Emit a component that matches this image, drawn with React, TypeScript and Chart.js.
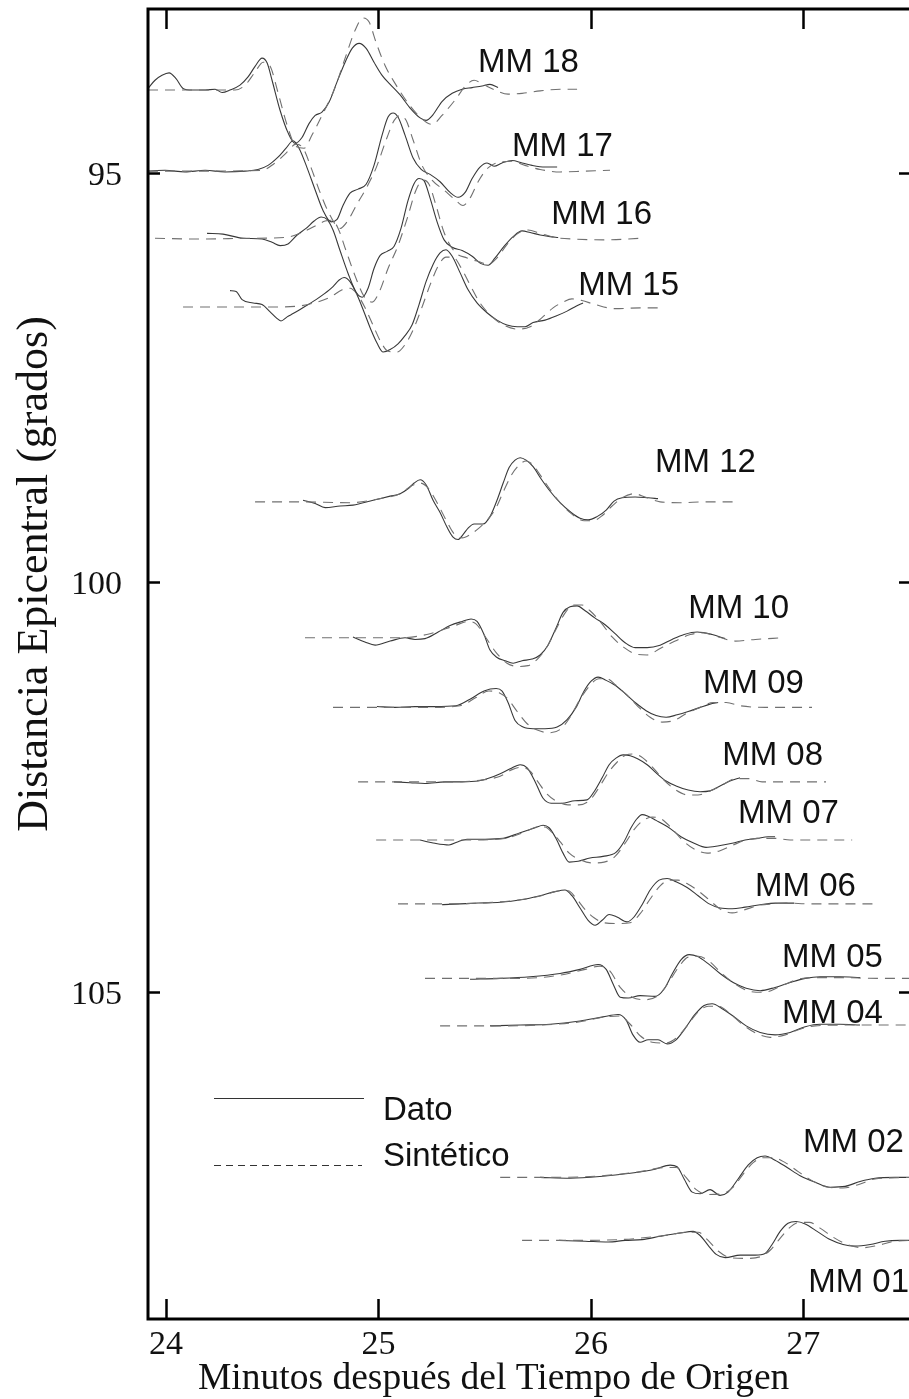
import { useEffect, useRef } from "react";
import { Chart, registerables } from "chart.js";

Chart.register(...registerables);

// Station names, top to bottom, and their epicentral distances (degrees)
const stations = ["MM 18", "MM 17", "MM 16", "MM 15", "MM 12", "MM 10", "MM 09", "MM 08", "MM 07", "MM 06", "MM 05", "MM 04", "MM 02", "MM 01"];
const distances = [93.98, 94.98, 95.8, 96.65, 99.02, 100.68, 101.53, 102.44, 103.15, 103.93, 104.84, 105.41, 107.27, 108.04];

// Axis ticks
const timeTicks = [24, 25, 26, 27];
const distanceTicks = [95, 100, 105];

// Each trace: [minutes after origin, amplitude in degrees (positive = up)]
const mm18Dato = [[23.915, 0.01], [23.948, 0.11], [23.981, 0.17], [24.014, 0.2], [24.047, 0.13], [24.08, 0.01], [24.122, -0.01], [24.184, -0.01], [24.231, 0.0], [24.264, -0.04], [24.301, -0.01], [24.348, 0.05], [24.386, 0.15], [24.419, 0.28], [24.452, 0.38], [24.476, 0.32], [24.499, 0.11], [24.537, -0.26], [24.574, -0.53], [24.607, -0.66], [24.64, -0.59], [24.673, -0.42], [24.702, -0.32], [24.734, -0.28], [24.767, -0.16], [24.805, 0.09], [24.843, 0.33], [24.876, 0.5], [24.909, 0.56], [24.942, 0.5], [24.979, 0.33], [25.017, 0.17], [25.055, 0.06], [25.102, -0.07], [25.149, -0.23], [25.196, -0.35], [25.224, -0.38], [25.257, -0.31], [25.299, -0.15], [25.347, -0.05], [25.394, 0.0], [25.441, 0.02], [25.488, 0.04], [25.525, 0.06], [25.563, 0.02]];
const mm18Sint = [[23.915, -0.01], [24.16, -0.01], [24.325, -0.01], [24.372, 0.05], [24.419, 0.21], [24.457, 0.33], [24.49, 0.28], [24.527, -0.04], [24.57, -0.44], [24.612, -0.7], [24.65, -0.72], [24.687, -0.56], [24.734, -0.32], [24.791, -0.01], [24.843, 0.38], [24.89, 0.72], [24.927, 0.87], [24.956, 0.82], [24.989, 0.57], [25.031, 0.29], [25.083, 0.05], [25.139, -0.17], [25.196, -0.34], [25.252, -0.43], [25.299, -0.32], [25.361, -0.13], [25.413, 0.05], [25.45, 0.11], [25.492, 0.06], [25.549, -0.01], [25.61, -0.06], [25.676, -0.05], [25.761, -0.02], [25.855, 0.0], [25.935, 0.0]];

const mm17Dato = [[23.915, 0.0], [23.995, 0.01], [24.089, -0.01], [24.184, 0.01], [24.278, -0.01], [24.372, 0.0], [24.433, 0.02], [24.48, 0.07], [24.527, 0.17], [24.565, 0.28], [24.598, 0.37], [24.626, 0.28], [24.664, 0.04], [24.702, -0.23], [24.739, -0.48], [24.777, -0.62], [24.805, -0.59], [24.833, -0.42], [24.866, -0.27], [24.904, -0.22], [24.942, -0.16], [24.979, 0.07], [25.017, 0.44], [25.045, 0.66], [25.069, 0.71], [25.092, 0.66], [25.125, 0.44], [25.163, 0.16], [25.201, 0.02], [25.243, -0.04], [25.29, -0.13], [25.337, -0.26], [25.375, -0.32], [25.408, -0.26], [25.441, -0.09], [25.478, 0.05], [25.511, 0.1], [25.544, 0.06], [25.582, 0.1], [25.629, 0.13], [25.676, 0.1], [25.723, 0.07], [25.784, 0.05], [25.841, 0.05]];
const mm17Sint = [[23.915, 0.0], [24.16, 0.0], [24.452, 0.01], [24.508, 0.09], [24.565, 0.22], [24.612, 0.33], [24.645, 0.28], [24.683, 0.04], [24.725, -0.26], [24.772, -0.54], [24.819, -0.7], [24.857, -0.6], [24.895, -0.42], [24.942, -0.21], [24.989, 0.04], [25.036, 0.38], [25.074, 0.62], [25.102, 0.68], [25.13, 0.62], [25.163, 0.38], [25.205, 0.07], [25.252, -0.11], [25.308, -0.23], [25.361, -0.35], [25.398, -0.42], [25.431, -0.33], [25.469, -0.13], [25.516, 0.04], [25.573, 0.11], [25.629, 0.12], [25.69, 0.07], [25.761, 0.02], [25.855, -0.01], [25.973, 0.0], [26.09, 0.01]];

const mm16Dato = [[24.193, 0.06], [24.268, 0.05], [24.363, 0.0], [24.452, -0.01], [24.499, -0.05], [24.537, -0.09], [24.574, -0.07], [24.617, 0.04], [24.659, 0.12], [24.697, 0.21], [24.73, 0.26], [24.758, 0.23], [24.786, 0.1], [24.819, -0.15], [24.857, -0.43], [24.895, -0.66], [24.923, -0.72], [24.951, -0.61], [24.979, -0.37], [25.008, -0.21], [25.041, -0.16], [25.073, -0.1], [25.106, 0.12], [25.139, 0.46], [25.168, 0.67], [25.191, 0.73], [25.215, 0.7], [25.243, 0.49], [25.276, 0.2], [25.309, -0.02], [25.347, -0.11], [25.394, -0.15], [25.441, -0.22], [25.483, -0.31], [25.516, -0.33], [25.549, -0.24], [25.591, -0.1], [25.634, 0.02], [25.676, 0.09], [25.714, 0.07], [25.761, 0.04], [25.808, 0.02], [25.846, 0.01]];
const mm16Sint = [[23.948, 0.0], [24.16, -0.01], [24.395, 0.0], [24.56, 0.01], [24.631, 0.06], [24.702, 0.15], [24.749, 0.21], [24.782, 0.22], [24.81, 0.12], [24.847, -0.15], [24.89, -0.46], [24.932, -0.71], [24.97, -0.78], [25.003, -0.66], [25.045, -0.37], [25.092, -0.09], [25.135, 0.24], [25.177, 0.59], [25.21, 0.71], [25.238, 0.66], [25.271, 0.4], [25.309, 0.07], [25.361, -0.17], [25.417, -0.24], [25.478, -0.29], [25.516, -0.32], [25.558, -0.24], [25.61, -0.06], [25.657, 0.06], [25.704, 0.1], [25.761, 0.06], [25.831, 0.01], [25.925, -0.01], [26.067, -0.02], [26.232, 0.0]];

const mm15Dato = [[24.301, 0.21], [24.33, 0.2], [24.358, 0.1], [24.41, 0.06], [24.452, 0.04], [24.49, -0.05], [24.518, -0.12], [24.541, -0.16], [24.57, -0.11], [24.598, -0.07], [24.631, -0.02], [24.669, 0.04], [24.706, 0.1], [24.744, 0.17], [24.786, 0.26], [24.815, 0.34], [24.838, 0.37], [24.866, 0.32], [24.899, 0.16], [24.932, -0.05], [24.965, -0.27], [24.993, -0.43], [25.022, -0.54], [25.055, -0.51], [25.092, -0.44], [25.125, -0.34], [25.158, -0.21], [25.191, 0.04], [25.224, 0.32], [25.257, 0.53], [25.29, 0.67], [25.318, 0.71], [25.347, 0.63], [25.384, 0.43], [25.422, 0.22], [25.464, 0.06], [25.511, -0.06], [25.558, -0.15], [25.605, -0.21], [25.653, -0.23], [25.69, -0.23], [25.728, -0.18], [25.784, -0.15], [25.836, -0.1], [25.888, -0.04], [25.93, 0.02], [25.963, 0.06]];
const mm15Sint = [[24.08, 0.01], [24.301, 0.01], [24.49, 0.01], [24.617, 0.02], [24.697, 0.06], [24.772, 0.13], [24.829, 0.22], [24.866, 0.24], [24.899, 0.17], [24.937, 0.0], [24.974, -0.21], [25.012, -0.42], [25.045, -0.53], [25.088, -0.54], [25.125, -0.45], [25.163, -0.27], [25.201, -0.02], [25.243, 0.28], [25.281, 0.51], [25.318, 0.62], [25.351, 0.62], [25.389, 0.49], [25.431, 0.28], [25.478, 0.06], [25.535, -0.11], [25.596, -0.22], [25.657, -0.26], [25.714, -0.23], [25.77, -0.12], [25.822, 0.0], [25.869, 0.07], [25.911, 0.11], [25.958, 0.09], [26.02, 0.04], [26.114, -0.01], [26.232, 0.0], [26.326, 0.0]];

const mm12Dato = [[24.645, 0.02], [24.702, -0.02], [24.749, -0.07], [24.819, -0.05], [24.88, -0.04], [24.975, 0.02], [25.055, 0.07], [25.102, 0.1], [25.139, 0.16], [25.168, 0.23], [25.196, 0.27], [25.224, 0.21], [25.257, 0.02], [25.29, -0.13], [25.323, -0.31], [25.351, -0.43], [25.375, -0.46], [25.398, -0.4], [25.422, -0.32], [25.45, -0.27], [25.492, -0.27], [25.525, -0.18], [25.558, 0.02], [25.587, 0.23], [25.615, 0.42], [25.643, 0.51], [25.667, 0.54], [25.695, 0.51], [25.728, 0.43], [25.766, 0.28], [25.808, 0.13], [25.855, -0.01], [25.907, -0.13], [25.949, -0.2], [25.987, -0.22], [26.029, -0.18], [26.072, -0.1], [26.109, 0.01], [26.147, 0.05], [26.208, 0.06], [26.27, 0.05], [26.316, 0.04]];
const mm12Sint = [[24.419, 0.0], [24.631, 0.0], [24.866, -0.01], [25.008, 0.04], [25.102, 0.1], [25.158, 0.2], [25.196, 0.23], [25.233, 0.17], [25.276, -0.01], [25.318, -0.22], [25.356, -0.39], [25.394, -0.44], [25.431, -0.4], [25.473, -0.32], [25.516, -0.21], [25.554, -0.07], [25.587, 0.12], [25.629, 0.34], [25.667, 0.46], [25.695, 0.5], [25.728, 0.45], [25.761, 0.33], [25.808, 0.15], [25.855, -0.01], [25.911, -0.15], [25.968, -0.23], [26.01, -0.23], [26.057, -0.16], [26.1, -0.05], [26.147, 0.05], [26.204, 0.1], [26.255, 0.06], [26.326, 0.0], [26.42, -0.01], [26.538, 0.0], [26.67, 0.0]];

const mm10Dato = [[24.88, 0.01], [24.936, -0.05], [24.984, -0.09], [25.055, -0.04], [25.125, 0.0], [25.172, -0.02], [25.219, -0.01], [25.281, 0.07], [25.337, 0.15], [25.394, 0.2], [25.436, 0.23], [25.464, 0.2], [25.497, 0.04], [25.525, -0.15], [25.558, -0.24], [25.596, -0.28], [25.634, -0.31], [25.676, -0.28], [25.723, -0.26], [25.761, -0.21], [25.798, -0.09], [25.836, 0.12], [25.869, 0.31], [25.902, 0.38], [25.935, 0.39], [25.973, 0.33], [26.02, 0.24], [26.067, 0.16], [26.114, 0.05], [26.161, -0.06], [26.208, -0.12], [26.265, -0.12], [26.326, -0.09], [26.382, -0.02], [26.439, 0.04], [26.5, 0.07], [26.571, 0.04], [26.632, -0.01]];
const mm10Sint = [[24.654, 0.0], [24.772, 0.0], [24.913, 0.0], [25.102, 0.0], [25.243, 0.05], [25.361, 0.15], [25.422, 0.2], [25.459, 0.17], [25.506, 0.0], [25.554, -0.18], [25.605, -0.31], [25.657, -0.35], [25.704, -0.34], [25.756, -0.24], [25.798, -0.09], [25.841, 0.13], [25.883, 0.32], [25.921, 0.4], [25.958, 0.4], [25.996, 0.33], [26.043, 0.2], [26.1, 0.01], [26.157, -0.12], [26.213, -0.2], [26.265, -0.21], [26.326, -0.13], [26.397, -0.04], [26.468, 0.04], [26.529, 0.06], [26.6, 0.01], [26.68, -0.04], [26.774, -0.02], [26.9, 0.0]];

const mm09Dato = [[24.993, 0.01], [25.078, 0.0], [25.172, 0.01], [25.266, 0.01], [25.365, 0.02], [25.431, 0.1], [25.497, 0.2], [25.554, 0.23], [25.582, 0.2], [25.61, 0.06], [25.643, -0.16], [25.681, -0.24], [25.728, -0.26], [25.784, -0.26], [25.841, -0.24], [25.888, -0.15], [25.93, 0.0], [25.968, 0.2], [26.001, 0.32], [26.034, 0.37], [26.072, 0.33], [26.114, 0.27], [26.161, 0.17], [26.213, 0.05], [26.26, -0.04], [26.307, -0.1], [26.354, -0.12], [26.406, -0.09], [26.458, -0.05], [26.514, 0.0], [26.561, 0.04], [26.599, 0.06]];
const mm09Sint = [[24.786, 0.0], [25.008, 0.0], [25.243, 0.0], [25.384, 0.02], [25.459, 0.12], [25.52, 0.2], [25.568, 0.18], [25.61, 0.1], [25.653, -0.05], [25.7, -0.2], [25.751, -0.28], [25.803, -0.31], [25.855, -0.27], [25.902, -0.12], [25.949, 0.1], [25.996, 0.27], [26.038, 0.35], [26.076, 0.35], [26.118, 0.27], [26.17, 0.15], [26.222, 0.01], [26.279, -0.12], [26.335, -0.18], [26.391, -0.16], [26.453, -0.07], [26.514, 0.0], [26.576, 0.06], [26.637, 0.06], [26.703, 0.02], [26.82, 0.0], [26.937, 0.0], [27.041, 0.0]];

const mm08Dato = [[25.073, 0.0], [25.149, -0.01], [25.219, -0.02], [25.314, 0.0], [25.394, 0.0], [25.469, 0.01], [25.525, 0.05], [25.573, 0.1], [25.62, 0.16], [25.667, 0.21], [25.7, 0.17], [25.738, 0.0], [25.775, -0.2], [25.813, -0.26], [25.864, -0.26], [25.925, -0.23], [25.982, -0.22], [26.015, -0.12], [26.053, 0.05], [26.086, 0.21], [26.118, 0.29], [26.152, 0.33], [26.185, 0.32], [26.222, 0.28], [26.265, 0.21], [26.307, 0.11], [26.354, 0.01], [26.401, -0.05], [26.458, -0.1], [26.514, -0.12], [26.561, -0.11], [26.608, -0.05], [26.655, 0.01], [26.702, 0.05]];
const mm08Sint = [[24.904, 0.0], [25.102, 0.0], [25.29, 0.0], [25.478, 0.02], [25.573, 0.07], [25.629, 0.15], [25.676, 0.18], [25.714, 0.13], [25.751, 0.0], [25.794, -0.15], [25.841, -0.24], [25.892, -0.28], [25.944, -0.28], [25.996, -0.22], [26.038, -0.07], [26.081, 0.11], [26.123, 0.24], [26.166, 0.33], [26.204, 0.34], [26.246, 0.29], [26.293, 0.17], [26.345, 0.02], [26.401, -0.1], [26.458, -0.16], [26.504, -0.16], [26.561, -0.11], [26.618, -0.04], [26.68, 0.04], [26.742, 0.04], [26.806, 0.0], [26.938, 0.0], [27.107, 0.0]];

const mm07Dato = [[25.196, 0.0], [25.266, -0.04], [25.332, -0.06], [25.375, -0.02], [25.417, 0.01], [25.502, 0.01], [25.587, 0.02], [25.667, 0.09], [25.738, 0.15], [25.775, 0.18], [25.803, 0.15], [25.836, 0.02], [25.869, -0.16], [25.898, -0.27], [25.94, -0.26], [25.996, -0.22], [26.057, -0.2], [26.118, -0.15], [26.156, -0.02], [26.189, 0.15], [26.217, 0.26], [26.241, 0.31], [26.269, 0.29], [26.307, 0.24], [26.363, 0.16], [26.424, 0.04], [26.486, -0.04], [26.542, -0.09], [26.603, -0.07], [26.665, -0.04], [26.726, 0.0], [26.783, 0.02], [26.835, 0.04], [26.867, 0.04]];
const mm07Sint = [[24.989, 0.0], [25.196, 0.0], [25.431, 0.0], [25.596, 0.02], [25.69, 0.1], [25.747, 0.16], [25.784, 0.16], [25.817, 0.09], [25.855, -0.02], [25.898, -0.16], [25.949, -0.24], [26.006, -0.28], [26.062, -0.27], [26.114, -0.2], [26.161, -0.04], [26.204, 0.13], [26.246, 0.24], [26.288, 0.28], [26.33, 0.26], [26.378, 0.15], [26.43, 0.0], [26.486, -0.11], [26.547, -0.16], [26.608, -0.13], [26.67, -0.06], [26.731, 0.0], [26.798, 0.02], [26.868, 0.02], [26.938, 0.0], [27.079, 0.0], [27.23, 0.0]];

const mm06Dato = [[25.299, -0.01], [25.384, 0.0], [25.469, 0.01], [25.573, 0.02], [25.671, 0.05], [25.761, 0.1], [25.832, 0.15], [25.878, 0.17], [25.911, 0.1], [25.949, -0.05], [25.987, -0.2], [26.02, -0.26], [26.053, -0.2], [26.086, -0.13], [26.123, -0.16], [26.17, -0.22], [26.203, -0.16], [26.241, -0.01], [26.279, 0.17], [26.321, 0.29], [26.359, 0.31], [26.401, 0.27], [26.453, 0.2], [26.505, 0.1], [26.557, 0.0], [26.608, -0.05], [26.665, -0.06], [26.726, -0.04], [26.797, -0.01], [26.868, 0.01], [26.957, 0.01]];
const mm06Sint = [[25.092, 0.0], [25.29, 0.0], [25.478, 0.01], [25.667, 0.05], [25.784, 0.11], [25.855, 0.16], [25.893, 0.16], [25.93, 0.07], [25.973, -0.07], [26.015, -0.17], [26.062, -0.23], [26.128, -0.24], [26.185, -0.23], [26.232, -0.12], [26.279, 0.06], [26.326, 0.22], [26.368, 0.29], [26.41, 0.29], [26.458, 0.24], [26.51, 0.15], [26.561, 0.04], [26.613, -0.07], [26.665, -0.11], [26.726, -0.07], [26.787, -0.02], [26.853, 0.0], [26.919, 0.01], [27.032, 0.0], [27.173, 0.0], [27.329, 0.0]];

const mm05Dato = [[25.431, -0.01], [25.573, 0.0], [25.714, 0.02], [25.855, 0.06], [25.949, 0.11], [26.034, 0.17], [26.072, 0.11], [26.105, -0.07], [26.138, -0.23], [26.176, -0.24], [26.232, -0.21], [26.303, -0.22], [26.345, -0.13], [26.382, 0.05], [26.425, 0.23], [26.463, 0.29], [26.5, 0.27], [26.552, 0.18], [26.608, 0.06], [26.67, -0.05], [26.731, -0.12], [26.797, -0.15], [26.867, -0.11], [26.938, -0.05], [27.009, 0.0], [27.079, 0.02], [27.173, 0.02], [27.267, 0.01]];
const mm05Sint = [[25.219, 0.0], [25.431, 0.0], [25.667, 0.0], [25.855, 0.04], [25.973, 0.11], [26.043, 0.15], [26.09, 0.09], [26.138, -0.11], [26.194, -0.23], [26.255, -0.26], [26.316, -0.21], [26.363, -0.06], [26.411, 0.13], [26.458, 0.26], [26.505, 0.27], [26.557, 0.21], [26.613, 0.07], [26.68, -0.07], [26.75, -0.16], [26.816, -0.17], [26.882, -0.11], [26.962, -0.02], [27.041, 0.01], [27.173, 0.01], [27.362, 0.0], [27.526, 0.0]];

const mm04Dato = [[25.525, -0.01], [25.667, 0.0], [25.808, 0.01], [25.949, 0.05], [26.057, 0.1], [26.128, 0.13], [26.166, 0.06], [26.198, -0.12], [26.232, -0.21], [26.27, -0.18], [26.316, -0.18], [26.359, -0.23], [26.401, -0.18], [26.444, -0.04], [26.49, 0.13], [26.533, 0.24], [26.571, 0.26], [26.618, 0.2], [26.675, 0.1], [26.731, -0.01], [26.797, -0.09], [26.867, -0.12], [26.938, -0.09], [27.009, -0.02], [27.079, 0.01], [27.173, 0.01], [27.267, 0.0]];
const mm04Sint = [[25.29, -0.01], [25.525, -0.01], [25.761, 0.0], [25.949, 0.04], [26.067, 0.1], [26.138, 0.11], [26.185, 0.01], [26.232, -0.13], [26.288, -0.21], [26.35, -0.22], [26.401, -0.16], [26.453, -0.01], [26.505, 0.16], [26.552, 0.23], [26.599, 0.23], [26.651, 0.15], [26.712, 0.01], [26.778, -0.1], [26.844, -0.15], [26.915, -0.12], [26.985, -0.05], [27.056, -0.01], [27.221, 0.0], [27.526, 0.0]];

const mm02Dato = [[25.761, 0.0], [25.902, -0.01], [26.043, 0.01], [26.185, 0.05], [26.302, 0.1], [26.373, 0.15], [26.406, 0.13], [26.439, -0.02], [26.477, -0.18], [26.514, -0.2], [26.561, -0.15], [26.608, -0.22], [26.646, -0.18], [26.693, -0.02], [26.74, 0.15], [26.783, 0.24], [26.82, 0.26], [26.867, 0.21], [26.924, 0.12], [26.985, 0.02], [27.056, -0.06], [27.126, -0.12], [27.197, -0.11], [27.267, -0.05], [27.338, -0.01], [27.432, 0.0], [27.526, 0.0]];
const mm02Sint = [[25.573, 0.0], [25.761, 0.0], [25.996, 0.01], [26.232, 0.07], [26.349, 0.12], [26.401, 0.12], [26.448, 0.0], [26.496, -0.15], [26.552, -0.21], [26.618, -0.2], [26.67, -0.12], [26.717, 0.04], [26.764, 0.18], [26.811, 0.24], [26.858, 0.24], [26.915, 0.18], [26.976, 0.07], [27.041, -0.04], [27.117, -0.12], [27.187, -0.13], [27.258, -0.09], [27.338, -0.02], [27.526, 0.0]];

const mm01Dato = [[25.85, 0.0], [25.973, -0.01], [26.081, -0.02], [26.161, 0.0], [26.241, 0.01], [26.326, 0.05], [26.42, 0.09], [26.481, 0.11], [26.514, 0.06], [26.552, -0.06], [26.59, -0.17], [26.632, -0.21], [26.703, -0.18], [26.774, -0.18], [26.82, -0.16], [26.853, -0.05], [26.891, 0.11], [26.928, 0.21], [26.966, 0.23], [27.009, 0.2], [27.065, 0.11], [27.126, 0.01], [27.187, -0.05], [27.244, -0.07], [27.315, -0.05], [27.385, -0.01], [27.456, 0.0], [27.526, 0.0]];
const mm01Sint = [[25.676, 0.0], [25.902, 0.0], [26.138, 0.01], [26.349, 0.06], [26.457, 0.1], [26.505, 0.1], [26.552, 0.0], [26.599, -0.13], [26.655, -0.21], [26.726, -0.22], [26.797, -0.2], [26.844, -0.12], [26.886, 0.01], [26.933, 0.15], [26.98, 0.22], [27.028, 0.22], [27.079, 0.15], [27.14, 0.04], [27.206, -0.05], [27.277, -0.09], [27.352, -0.06], [27.432, -0.01], [27.526, 0.0]];

const datoTraces = [mm18Dato, mm17Dato, mm16Dato, mm15Dato, mm12Dato, mm10Dato, mm09Dato, mm08Dato, mm07Dato, mm06Dato, mm05Dato, mm04Dato, mm02Dato, mm01Dato];
const sintTraces = [mm18Sint, mm17Sint, mm16Sint, mm15Sint, mm12Sint, mm10Sint, mm09Sint, mm08Sint, mm07Sint, mm06Sint, mm05Sint, mm04Sint, mm02Sint, mm01Sint];

// Where each station name sits: [minutes, degrees] of the text's left baseline
const stationLabelAnchors = [[25.469, 93.77], [25.629, 94.79], [25.813, 95.63], [25.94, 96.49], [26.302, 98.65], [26.458, 100.44], [26.528, 101.35], [26.618, 102.23], [26.693, 102.94], [26.773, 103.83], [26.9, 104.7], [26.9, 105.39], [26.999, 106.96], [27.023, 108.67]];

const SERIF = "'Liberation Serif', 'Times New Roman', serif";
const SANS = "'Liberation Sans', Arial, sans-serif";

const toPoints = (trace: number[][], dist: number) => trace.map(([t, a]) => ({ x: t, y: dist - a }));

const sectionDecor = {
  id: "sectionDecor",
  afterDatasetsDraw(chart: any) {
    const { ctx, chartArea: area, scales } = chart;
    const xs = scales.x;
    const ys = scales.y;
    ctx.save();

    // frame
    ctx.strokeStyle = "#000";
    ctx.lineWidth = 3;
    ctx.strokeRect(area.left, area.top, area.right - area.left, area.bottom - area.top);

    // inward ticks
    ctx.lineWidth = 2.5;
    ctx.beginPath();
    timeTicks.forEach((v) => {
      const px = Math.round(xs.getPixelForValue(v)) + 0.5;
      ctx.moveTo(px, area.bottom);
      ctx.lineTo(px, area.bottom - 20);
      ctx.moveTo(px, area.top);
      ctx.lineTo(px, area.top + 20);
    });
    distanceTicks.forEach((v) => {
      const py = Math.round(ys.getPixelForValue(v)) + 0.5;
      ctx.moveTo(area.left, py);
      ctx.lineTo(area.left + 12, py);
      ctx.moveTo(area.right, py);
      ctx.lineTo(area.right - 12, py);
    });
    ctx.stroke();

    // tick labels
    ctx.fillStyle = "#111";
    ctx.font = `34px ${SERIF}`;
    ctx.textBaseline = "alphabetic";
    ctx.textAlign = "center";
    timeTicks.forEach((v) => ctx.fillText(String(v), xs.getPixelForValue(v), area.bottom + 35));
    ctx.textAlign = "right";
    distanceTicks.forEach((v) => ctx.fillText(String(v), area.left - 26, ys.getPixelForValue(v) + 12));

    // axis titles
    ctx.font = `37.5px ${SERIF}`;
    ctx.textAlign = "left";
    ctx.fillText("Minutos después del Tiempo de Origen", 198, area.bottom + 70);
    ctx.save();
    ctx.translate(47, 574);
    ctx.rotate(-Math.PI / 2);
    ctx.font = `44px ${SERIF}`;
    ctx.textAlign = "center";
    ctx.fillText("Distancia Epicentral (grados)", 0, 0);
    ctx.restore();

    // station names
    ctx.font = `33px ${SANS}`;
    ctx.textAlign = "left";
    stations.forEach((name, i) => {
      const [t, d] = stationLabelAnchors[i];
      ctx.fillText(name, xs.getPixelForValue(t), ys.getPixelForValue(d));
    });

    // legend
    ctx.strokeStyle = "#333";
    ctx.lineWidth = 1.2;
    ctx.beginPath();
    ctx.moveTo(214, 1098.5);
    ctx.lineTo(364, 1098.5);
    ctx.stroke();
    ctx.setLineDash([7, 5]);
    ctx.beginPath();
    ctx.moveTo(214, 1165.5);
    ctx.lineTo(362, 1165.5);
    ctx.stroke();
    ctx.setLineDash([]);
    ctx.fillText("Dato", 383, 1120);
    ctx.fillText("Sintético", 383, 1166);

    ctx.restore();
  },
};

export default function App() {
  const canvasRef = useRef<HTMLCanvasElement | null>(null);

  useEffect(() => {
    const canvas = canvasRef.current;
    if (!canvas) return;
    const datasets: any[] = [];
    stations.forEach((name, i) => {
      datasets.push({
        label: `${name} Sintético`,
        data: toPoints(sintTraces[i], distances[i]),
        borderColor: "#707070",
        borderWidth: 1.1,
        borderDash: [10, 7],
        pointRadius: 0,
        cubicInterpolationMode: "monotone",
        fill: false,
      });
      datasets.push({
        label: `${name} Dato`,
        data: toPoints(datoTraces[i], distances[i]),
        borderColor: "#383838",
        borderWidth: 1.1,
        pointRadius: 0,
        cubicInterpolationMode: "monotone",
        fill: false,
      });
    });

    const chart = new Chart(canvas, {
      type: "line",
      data: { datasets },
      options: {
        animation: false,
        responsive: false,
        devicePixelRatio: 1,
        layout: { padding: { left: 148, top: 9, right: 19, bottom: 80 } },
        scales: {
          x: { type: "linear", min: 23.915, max: 27.507, display: false },
          y: { type: "linear", min: 93, max: 109, reverse: true, display: false },
        },
        plugins: { legend: { display: false }, tooltip: { enabled: false } },
        events: [],
      },
      plugins: [sectionDecor],
    });
    return () => chart.destroy();
  }, []);

  return (
    <div style={{ position: "absolute", left: 0, top: 0, width: 909, height: 1399, overflow: "hidden", background: "#fff" }}>
      <canvas ref={canvasRef} width={930} height={1399} style={{ display: "block" }} />
    </div>
  );
}
